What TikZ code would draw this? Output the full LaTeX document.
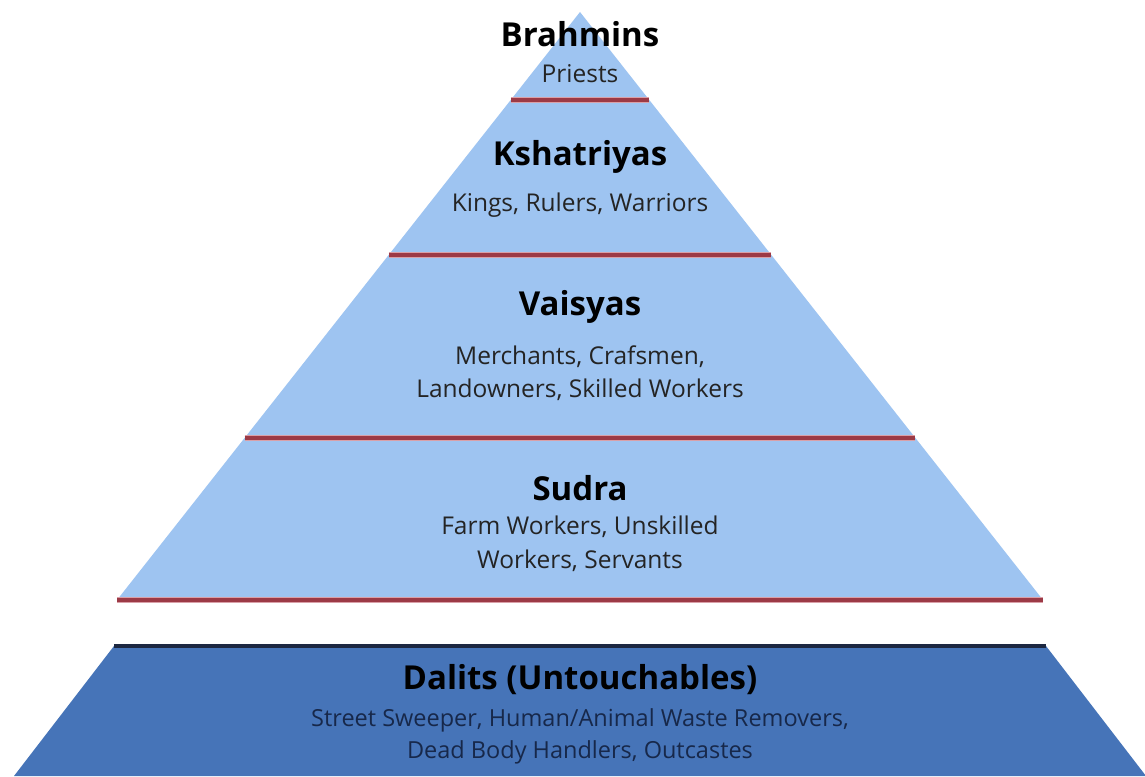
\documentclass[tikz,border=0pt]{standalone}
\usepackage{fontspec}
\setmainfont{Open Sans}
\usetikzlibrary{positioning}
\definecolor{tierblue}{HTML}{9EC4F1}
\definecolor{baseblue}{HTML}{4674B8}
\definecolor{rulered}{HTML}{9C3A46}
\definecolor{rulepink}{HTML}{D9A0A8}
\definecolor{rulenavy}{HTML}{1C2741}
\definecolor{subgray}{HTML}{242424}
\definecolor{subnavy}{HTML}{17284A}
\tikzset{caste/.style = {font=\bfseries\fontsize{33}{39}\selectfont, text=black, inner sep=0pt}}
\tikzset{duty/.style = {font=\fontsize{24.5}{33.5}\selectfont, text=subgray, align=center, inner sep=0pt}}
\tikzset{redrule/.style = {line width=4pt, rulered}}

\begin{document}
\begin{tikzpicture}[x=1pt,y=-1pt]
\useasboundingbox (0,0) rectangle (1145,776);
\fill[white] (0,0) rectangle (1145,776);

% upper pyramid
\fill[tierblue] (580,12) -- (117,600) -- (1043,600) -- cycle;
\foreach \y in {100,255,438,600} {
  \pgfmathsetmacro\hw{(\y-12)*0.787}
  \draw[rulepink, line width=6.5pt] (580-\hw,\y) -- (580+\hw,\y);
  \draw[redrule] (580-\hw,\y) -- (580+\hw,\y);
}

% base slice
\fill[baseblue] (114,646) -- (1046,646) -- (1146,776) -- (14,776) -- cycle;
\draw[rulenavy, line width=4pt] (114,646) -- (1046,646);

\node[caste] (brahmins) at (580,34) {Brahmins};
\node[duty] (priests) at (580,74) {Priests};

\node[caste] (kshatriyas) at (580,157) {Kshatriyas};
\node[duty] (kings) at (580,205) {Kings, Rulers, Warriors};

\node[caste] (vaisyas) at (580,307) {Vaisyas};
\node[duty] (merchants) at (580,373) {Merchants, Crafsmen,\\Landowners, Skilled Workers};

\node[caste] (sudra) at (580,488) {Sudra};
\node[duty] (farm) at (580,544) {Farm Workers, Unskilled\\Workers, Servants};

\node[caste] (dalits) at (580,680) {Dalits (Untouchables)};
\node[duty, font=\fontsize{23.5}{32}\selectfont, text=subnavy] (sweeper) at (580,736) {Street Sweeper, Human/Animal Waste Removers,\\Dead Body Handlers, Outcastes};
\end{tikzpicture}
\end{document}
